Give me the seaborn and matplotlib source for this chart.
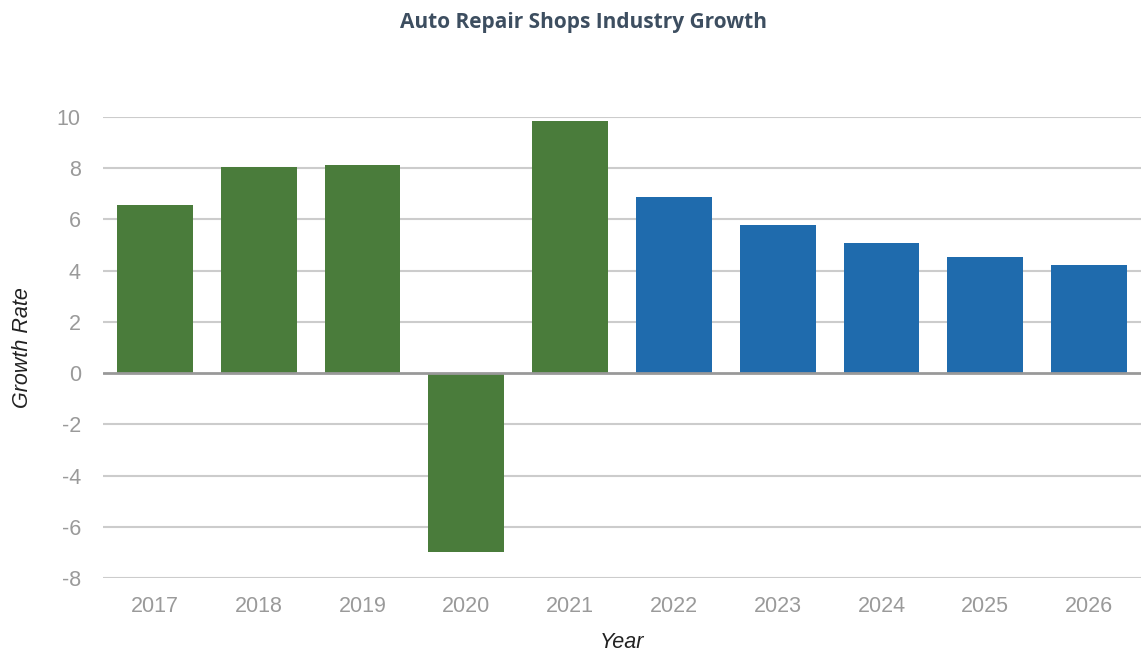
import matplotlib
matplotlib.use("Agg")
import matplotlib.pyplot as plt
import seaborn as sns
import pandas as pd

years = ["2017", "2018", "2019", "2020", "2021", "2022", "2023", "2024", "2025", "2026"]
growth = [6.56, 8.05, 8.12, -6.99, 9.84, 6.87, 5.78, 5.08, 4.53, 4.22]
period = ["Historical"] * 5 + ["Forecast"] * 5
yticks = [-8, -6, -4, -2, 0, 2, 4, 6, 8, 10]

colors = {"Historical": "#4a7c3b", "Forecast": "#1f6bad"}

df = pd.DataFrame({"Year": years, "Growth": growth, "Period": period})

sns.set_style("white")
plt.rcParams["font.family"] = ["Liberation Sans", "DejaVu Sans"]

fig = plt.figure(figsize=(11.41, 6.54), dpi=100)
ax = fig.add_axes([0.0903, 0.1162, 0.9097, 0.7049])

sns.barplot(data=df, x="Year", y="Growth", hue="Period", palette=colors,
            dodge=False, width=0.73, saturation=1, legend=False, ax=ax,
            linewidth=0, zorder=3)

ax.set_ylim(-8, 10)
ax.set_xlim(-0.5, len(years) - 0.5)
ax.set_yticks(yticks)
ax.set_yticklabels([str(t) for t in yticks])
for t in yticks:
    if t == 0:
        ax.axhline(t, color="#999999", lw=2.0, zorder=4)
    else:
        ax.axhline(t, color="#cccccc", lw=1.5, zorder=1)

for s in ax.spines.values():
    s.set_visible(False)
ax.tick_params(axis="y", length=0, pad=16, labelsize=15.5, labelcolor="#9a9a9a")
ax.tick_params(axis="x", length=0, pad=13, labelsize=15.5, labelcolor="#9a9a9a")

ax.set_xlabel("Year", fontsize=15.5, style="italic", color="#222222", labelpad=11)
ax.set_ylabel("Growth Rate", fontsize=15.5, style="italic", color="#222222", labelpad=17)

fig.text(0.511, 0.965, "Auto Repair Shops Industry Growth", ha="center", va="center",
         fontsize=15, fontweight="bold", color="#3d4e60", family="Open Sans")

fig.savefig("out.png", dpi=100, facecolor="white")
